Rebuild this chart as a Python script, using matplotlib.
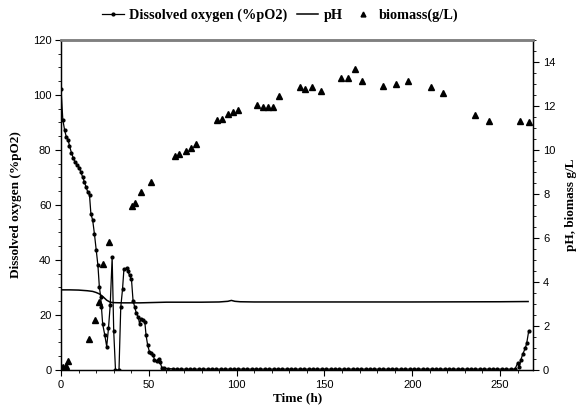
import matplotlib
matplotlib.use("Agg")
import matplotlib.pyplot as plt
from matplotlib.ticker import MultipleLocator
from matplotlib.lines import Line2D

# Dissolved oxygen (%pO2), left axis
do_time = [0, 1, 2, 3, 4, 4.8, 5.9, 7, 8, 9.2, 10.4, 11.2, 12.4, 13.2, 14.3, 15.2, 16.2,
           17, 18, 19, 20, 21, 21.8, 22.6, 23, 23.7, 24.9, 26, 27, 28, 29.1, 30, 31, 33,
           34, 35, 35.8, 37.3, 38, 39, 40.1, 41, 42, 42.8, 44, 44.7, 45.6, 46.5, 47.7,
           48.4, 49.3, 50.3, 51.3, 52.5, 53.2, 54.4, 55.5, 56.3, 57.4,
           58.5, 61, 63.5, 66, 68.5, 71, 73.5, 76, 78.5, 81, 83.5, 86, 88.5, 91, 93.5,
           96, 98.5, 101, 103.5, 106, 108.5, 111, 113.5, 116, 118.5, 121, 123.5, 126,
           128.5, 131, 133.5, 136, 138.5, 141, 143.5, 146, 148.5, 151, 153.5, 156, 158.5,
           161, 163.5, 166, 168.5, 171, 173.5, 176, 178.5, 181, 183.5, 186, 188.5, 191,
           193.5, 196, 198.5, 201, 203.5, 206, 208.5, 211, 213.5, 216, 218.5, 221, 223.5,
           226, 228.5, 231, 233.5, 236, 238.5, 241, 243.5, 246, 248.5, 251, 253.5, 256,
           258.5, 260, 261, 261.8, 263, 264.4, 265.2, 266.3]
do_value = [102, 91, 87.3, 84.7, 83.7, 81.5, 79, 77, 75.5, 74.5, 73.6, 72, 70, 68.5, 66.5,
            64.7, 63.6, 56.7, 54.5, 49.5, 43.6, 38, 30.3, 26.4, 23, 16.7, 12.7, 8.5, 15.1,
            23.6, 41, 14, 0, 0, 22.8, 29.3, 36.6, 37, 36, 34.4, 33, 25.2, 22.8, 20.8, 19.2,
            16.8, 18.7, 18, 17.5, 12.7, 9.1, 6.7, 6.3, 5.5, 3.6, 3.3, 4, 3, 0.8,
            0.6, 0.5, 0.4, 0.3, 0.3, 0.3, 0.3, 0.3, 0.3, 0.3, 0.3, 0.3, 0.3, 0.3, 0.3,
            0.3, 0.3, 0.3, 0.3, 0.3, 0.3, 0.3, 0.3, 0.3, 0.3, 0.3, 0.3, 0.3,
            0.3, 0.3, 0.3, 0.3, 0.3, 0.3, 0.3, 0.3, 0.3, 0.3, 0.3, 0.3, 0.3,
            0.3, 0.3, 0.3, 0.3, 0.3, 0.3, 0.3, 0.3, 0.3, 0.3, 0.3, 0.3, 0.3,
            0.3, 0.3, 0.3, 0.3, 0.3, 0.3, 0.3, 0.3, 0.3, 0.3, 0.3, 0.3, 0.3,
            0.3, 0.3, 0.3, 0.3, 0.3, 0.3, 0.3, 0.3, 0.3, 0.3, 0.3, 0.3, 0.3,
            0.3, 2.4, 1.0, 3.6, 5.8, 8.0, 9.7, 14.0]

# pH, right axis
ph_time = [0, 5, 10, 15, 18, 20, 22, 24, 26, 28, 30, 35, 40, 45, 50, 55, 60, 70, 80, 90,
           95, 97, 99, 102, 110, 150, 200, 250, 266]
ph_value = [3.64, 3.64, 3.63, 3.60, 3.57, 3.52, 3.45, 3.32, 3.17, 3.08, 3.06, 3.05, 3.05,
            3.05, 3.06, 3.07, 3.08, 3.08, 3.08, 3.09, 3.12, 3.16, 3.12, 3.10, 3.09, 3.09,
            3.09, 3.10, 3.11]

# biomass (g/L), right axis
bio_time = [0, 1.2, 2.7, 4.2, 16.1, 19.2, 21.4, 24.1, 27.1, 40.4, 42.3, 45.4, 51, 65, 67.2,
            71.2, 73.8, 76.9, 88.7, 91.9, 94.9, 98, 101, 111.6, 114.8, 117.9, 120.9, 124.1,
            135.9, 139, 142.9, 147.9, 159.6, 163.6, 167.6, 171.6, 183.6, 190.6, 197.6,
            210.5, 217.5, 235.6, 243.6, 261.6, 266.5]
bio_value = [0.12, 0.15, 0.18, 0.4, 1.4, 2.28, 3.07, 4.83, 5.83, 7.43, 7.6, 8.1, 8.55, 9.74,
             9.8, 9.94, 10.08, 10.29, 11.38, 11.42, 11.63, 11.74, 11.81, 12.02, 11.96, 11.93,
             11.93, 12.45, 12.86, 12.79, 12.86, 12.68, 13.27, 13.27, 13.67, 13.15, 12.9,
             13.0, 13.15, 12.88, 12.59, 11.57, 11.3, 11.3, 11.26]

serif = "Liberation Serif"
sans = "Liberation Sans"

fig = plt.figure(figsize=(5.76, 4.07), dpi=100)
ax = fig.add_axes([0.106, 0.091, 0.820, 0.811])
ax2 = ax.twinx()

ax.plot(do_time, do_value, color="black", lw=0.9, marker="o", ms=2.0, zorder=3)
ax2.plot(ph_time, ph_value, color="black", lw=1.1, zorder=3)
ax2.plot(bio_time, bio_value, linestyle="none", color="black", marker="^", ms=4.5, zorder=4)

ax.set_xlim(0, 269)
ax.set_ylim(0, 120)
ax2.set_ylim(0, 15)

ax.xaxis.set_major_locator(MultipleLocator(50))
ax.xaxis.set_minor_locator(MultipleLocator(10))
ax.yaxis.set_major_locator(MultipleLocator(20))
ax.yaxis.set_minor_locator(MultipleLocator(5))
ax2.yaxis.set_major_locator(MultipleLocator(2))
ax2.yaxis.set_minor_locator(MultipleLocator(0.5))

for a in (ax, ax2):
    a.tick_params(which="major", length=4, width=0.8, labelsize=8, pad=3)
    a.tick_params(which="minor", length=2, width=0.6)
    for lab in a.get_xticklabels() + a.get_yticklabels():
        lab.set_fontfamily(sans)
    for s in a.spines.values():
        s.set_linewidth(0.9)
ax.spines["top"].set_color("#808080")
ax.spines["top"].set_linewidth(1.8)
ax2.spines["top"].set_color("#808080")
ax2.spines["top"].set_linewidth(1.8)

ax.set_xlabel("Time (h)", fontfamily=serif, fontweight="bold", fontsize=9.5, labelpad=2)
ax.set_ylabel("Dissolved oxygen (%pO2)", fontfamily=serif, fontweight="bold", fontsize=9.5, labelpad=8)
ax2.set_ylabel("pH, biomass g/L", fontfamily=serif, fontweight="bold", fontsize=9.5, labelpad=7)

handles = [
    Line2D([], [], color="black", lw=0.9, marker="o", ms=2.0),
    Line2D([], [], color="black", lw=1.1),
    Line2D([], [], linestyle="none", color="black", marker="^", ms=3.5),
]
labels = ["Dissolved oxygen (%pO2)", "pH", "biomass(g/L)"]
fig.legend(handles, labels, loc="center", bbox_to_anchor=(0.487, 0.962), ncol=3, frameon=False,
           prop={"family": serif, "weight": "bold", "size": 10.3}, handlelength=1.5,
           handletextpad=0.35, columnspacing=0.7)

fig.savefig("out.png", dpi=100)
